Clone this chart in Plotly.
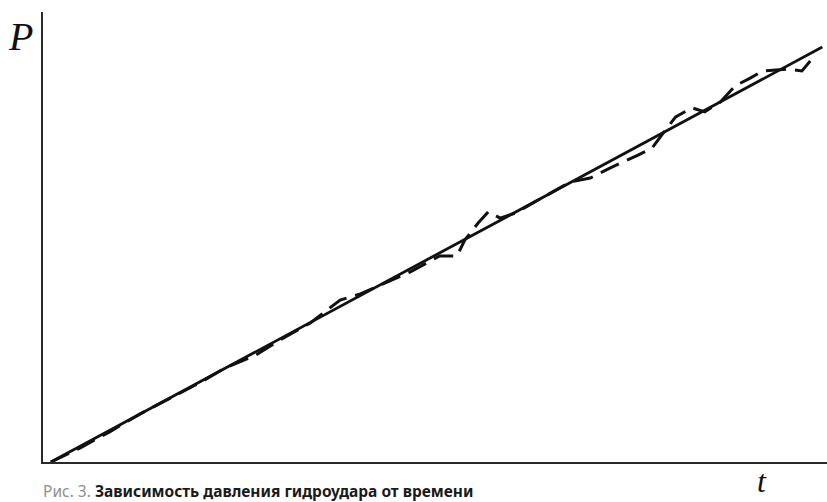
import plotly.graph_objects as go

# Linear trend of water-hammer pressure over time
trend_t = [0.10, 9.94]
trend_p = [0.00, 9.22]

# Measured pressure curve (dashed), oscillating around the trend
meas_t = [0.10, 0.47, 0.85, 1.24, 1.68, 2.00, 2.32, 2.70, 3.02, 3.41, 3.79, 4.04,
          4.30, 4.68, 5.06, 5.28, 5.38, 5.55, 5.68, 5.83, 6.02, 6.34, 6.72, 6.98,
          7.23, 7.59, 7.77, 7.91, 8.07, 8.28, 8.44, 8.64, 8.83, 9.02, 9.18, 9.49,
          9.68, 9.82]
meas_p = [0.00, 0.31, 0.67, 1.07, 1.47, 1.76, 2.09, 2.36, 2.71, 3.09, 3.60, 3.73,
          3.93, 4.22, 4.58, 4.58, 4.93, 5.31, 5.56, 5.42, 5.53, 5.84, 6.22, 6.31,
          6.53, 6.82, 6.98, 7.31, 7.67, 7.87, 7.78, 8.00, 8.36, 8.53, 8.69, 8.73,
          8.69, 8.98]

caption_num = "Рис. 3."
caption_text = "Зависимость давления гидроудара от времени"

fig = go.Figure()
fig.add_trace(go.Scatter(x=meas_t, y=meas_p, mode="lines",
                         line=dict(color="#111111", width=3, dash="20px,9px"),
                         hoverinfo="skip"))
fig.add_trace(go.Scatter(x=trend_t, y=trend_p, mode="lines",
                         line=dict(color="#111111", width=2.8),
                         hoverinfo="skip"))

axis_common = dict(showgrid=False, zeroline=False, showticklabels=False,
                   ticks="", showline=True, linecolor="#2a2a2a", linewidth=2)
fig.update_xaxes(range=[0, 10], **axis_common)
fig.update_yaxes(range=[0, 10], **axis_common)

# axis symbols
fig.add_annotation(x=-0.029, y=0.945, xref="paper", yref="paper", text="<i>P</i>",
                   showarrow=False, xanchor="center", yanchor="middle",
                   font=dict(family="Liberation Serif", size=40, color="#111111"))
fig.add_annotation(x=0.917, y=-0.087, xref="paper", yref="paper", text="<i>t</i>",
                   showarrow=False, xanchor="center", yanchor="bottom",
                   font=dict(family="Liberation Serif", size=32, color="#111111"))

# figure caption
fig.add_annotation(x=-0.002, y=-0.064, xref="paper", yref="paper",
                   text=f"<span style='color:#8f8f8f'>{caption_num}</span> <b>{caption_text}</b>",
                   showarrow=False, xanchor="left", yanchor="middle",
                   font=dict(family="Noto Sans", size=15.5, color="#1a1a1a"))

fig.update_layout(width=827, height=502, showlegend=False,
                  margin=dict(l=43, r=0, t=12, b=40),
                  paper_bgcolor="white", plot_bgcolor="white")

fig.write_html("out.html")
